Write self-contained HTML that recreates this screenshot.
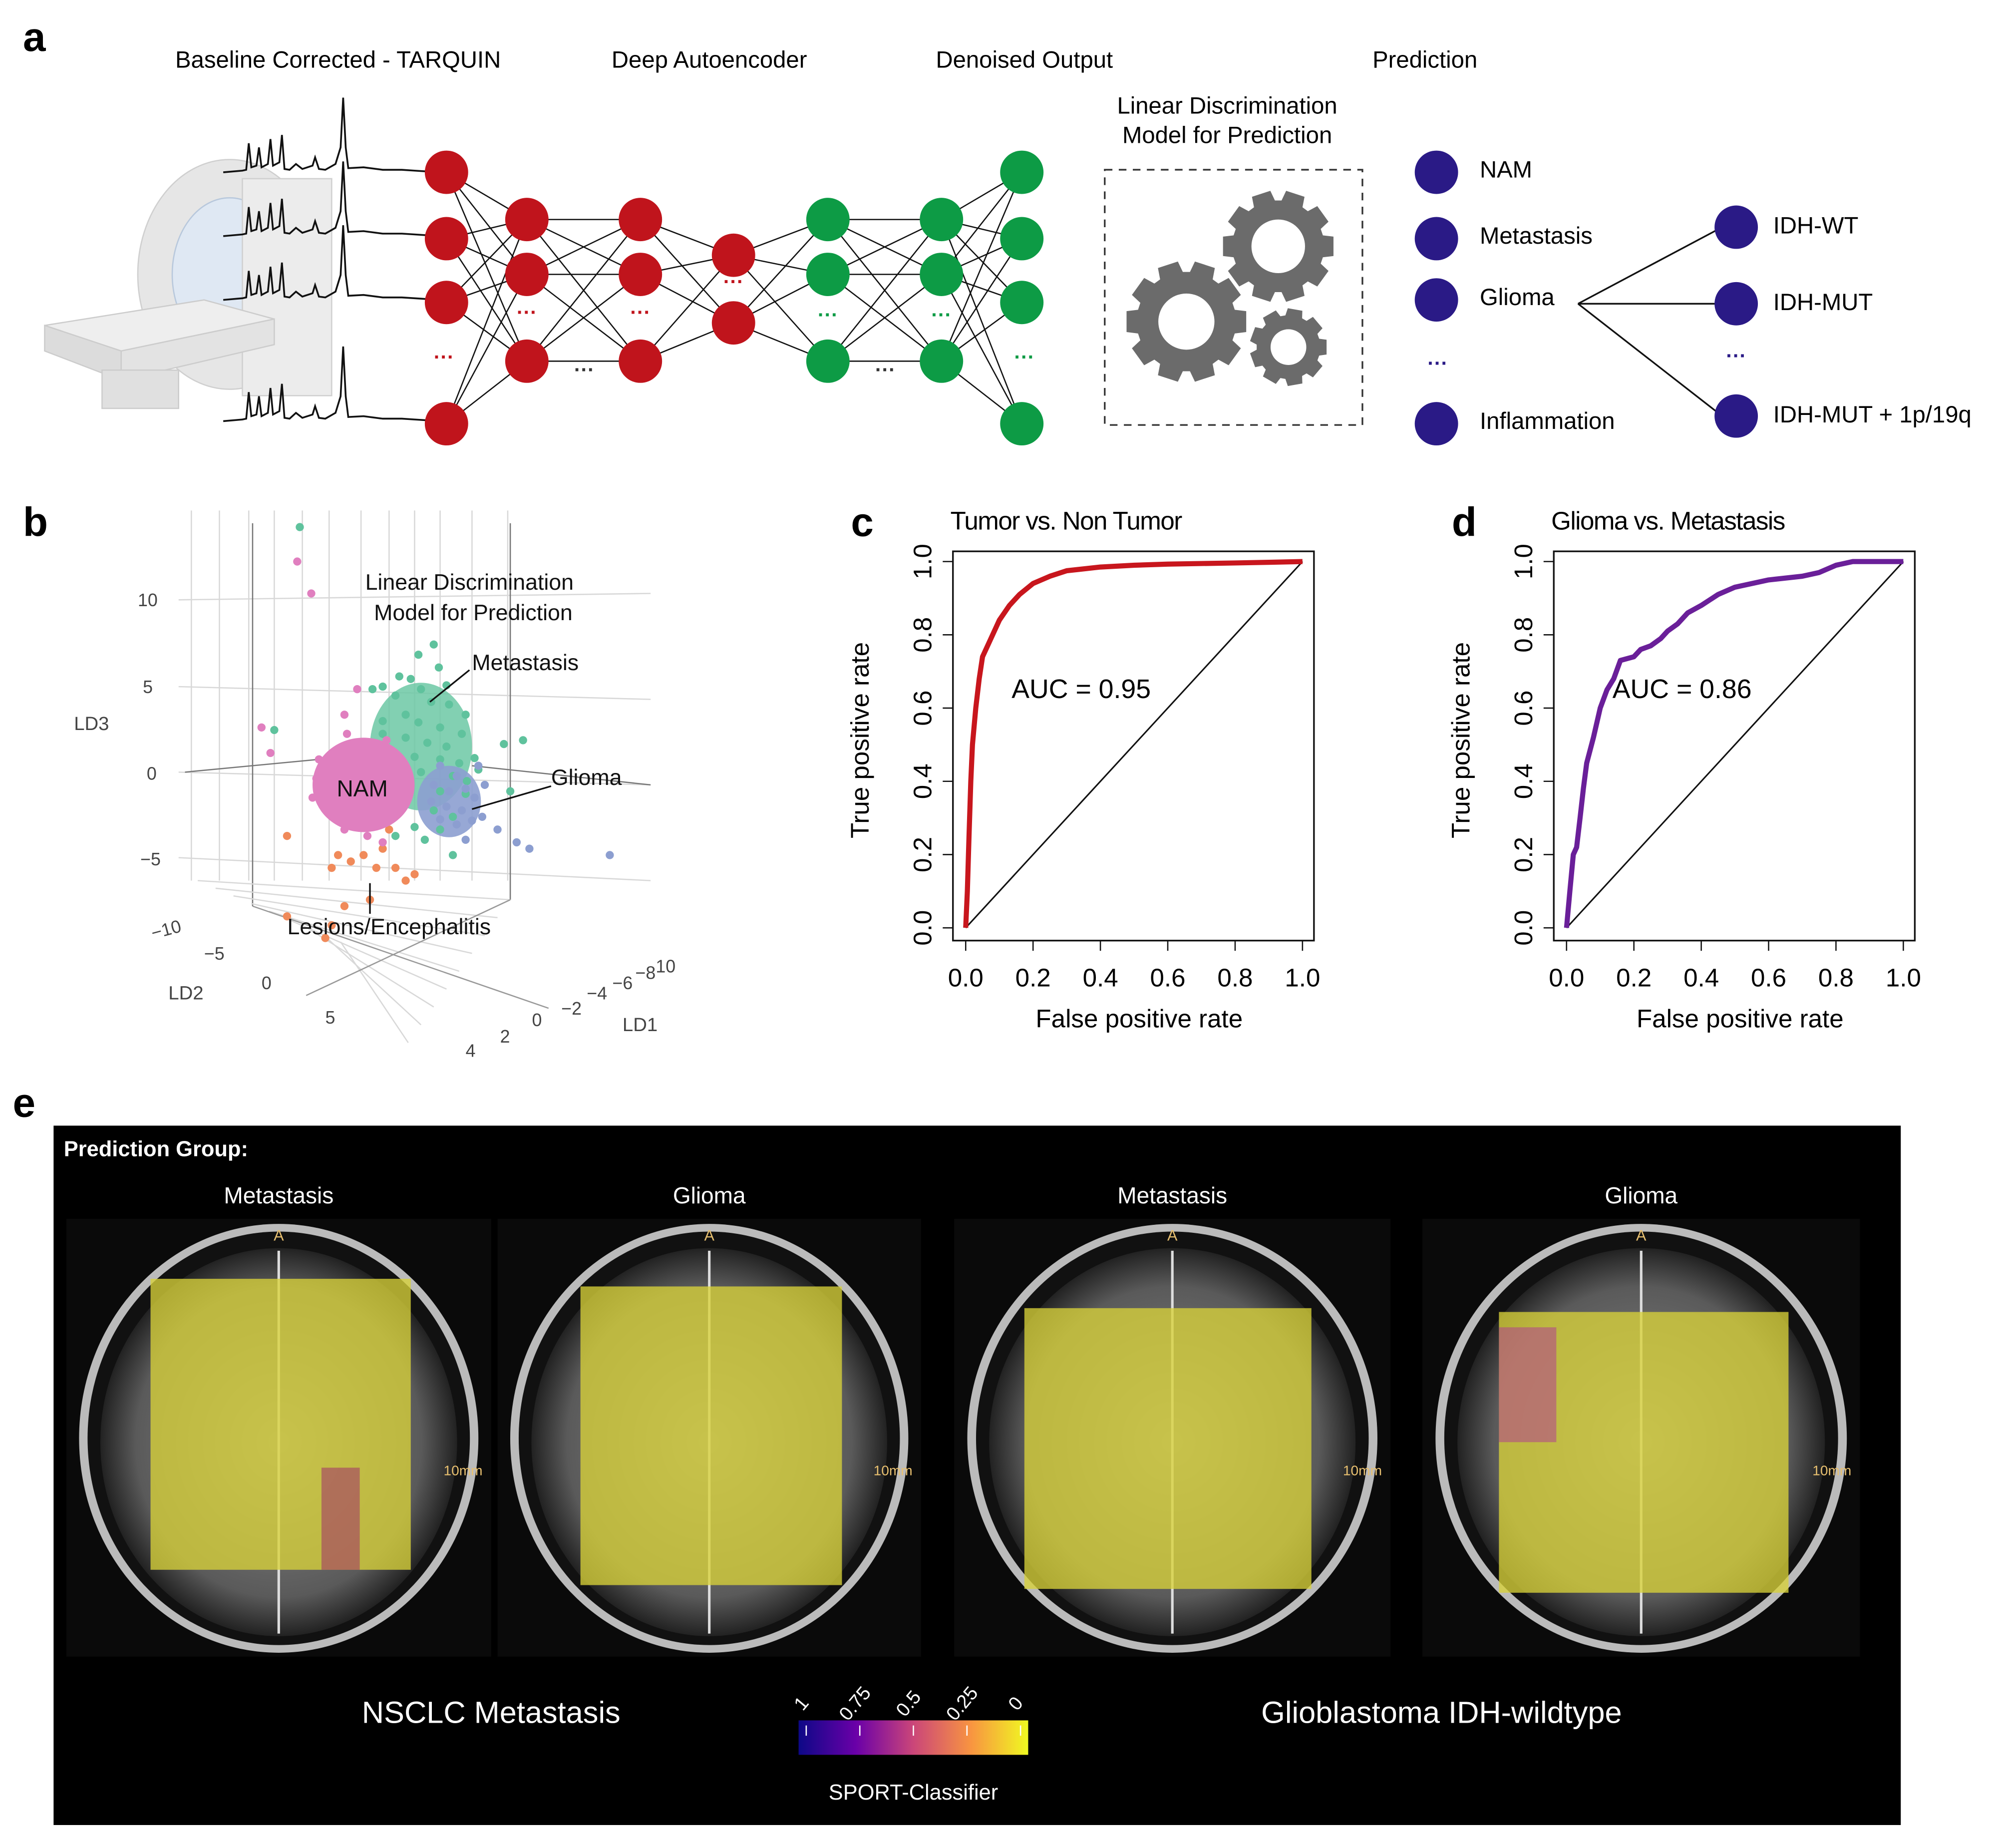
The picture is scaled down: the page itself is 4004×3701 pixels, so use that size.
<!DOCTYPE html>
<html><head><meta charset="utf-8">
<style>
html,body{margin:0;padding:0;background:#fff}
svg{display:block}
text{font-family:"Liberation Sans",Arial,sans-serif}
</style></head>
<body>
<svg id="fig" width="4004" height="3701" viewBox="0 0 1567 1448" preserveAspectRatio="none" xmlns="http://www.w3.org/2000/svg">
<defs>
<linearGradient id="plasma" x1="0" x2="1" y1="0" y2="0">
<stop offset="0" stop-color="#0d0887"/><stop offset="0.25" stop-color="#6a00a8"/><stop offset="0.5" stop-color="#cb4679"/><stop offset="0.75" stop-color="#f89441"/><stop offset="1" stop-color="#f0f921"/>
</linearGradient>
<radialGradient id="brain" cx="0.5" cy="0.5" r="0.5">
<stop offset="0" stop-color="#8a8a8a"/><stop offset="0.8" stop-color="#5a5a5a"/><stop offset="1" stop-color="#222"/>
</radialGradient>
</defs>

<g>
<text x="18" y="40" font-size="32" font-weight="bold">a</text>
<g font-size="18.5" text-anchor="middle">
<text x="265" y="53">Baseline Corrected - TARQUIN</text>
<text x="556" y="53">Deep Autoencoder</text>
<text x="803" y="53">Denoised Output</text>
<text x="1117" y="53">Prediction</text>
<text x="962" y="89">Linear Discrimination</text>
<text x="962" y="112">Model for Prediction</text>
</g>
<g>
<ellipse cx="180" cy="215" rx="72" ry="90" fill="#e6e6e6" stroke="#cfcfcf"/>
<ellipse cx="180" cy="215" rx="45" ry="60" fill="#dfe8f3" stroke="#b8c8dc"/>
<rect x="190" y="140" width="70" height="170" fill="#ececec" stroke="#d0d0d0"/>
<polygon points="35,255 160,235 215,250 95,275" fill="#eeeeee" stroke="#cccccc"/>
<polygon points="35,255 95,275 95,298 35,275" fill="#dcdcdc" stroke="#cccccc"/>
<polygon points="95,275 215,250 215,270 95,298" fill="#e3e3e3" stroke="#cccccc"/>
<rect x="80" y="290" width="60" height="30" fill="#e0e0e0" stroke="#ccc"/>
</g>
<g id="spectra" fill="none" stroke="#111" stroke-width="1.4"></g>
<g id="network"></g>
<rect x="866" y="133" width="202" height="200" fill="none" stroke="#333" stroke-dasharray="6,5" stroke-width="1.3"/>
<g id="gears" fill="#6b6b6b"></g>
<g id="pred"></g>
</g>

<g>
<text x="18" y="420" font-size="32" font-weight="bold">b</text>
<g id="grid3d" stroke="#d8d8d8" stroke-width="1" fill="none"></g>
<g font-size="14" fill="#444">
<text x="108" y="475">10</text><text x="112" y="543">5</text><text x="115" y="611">0</text><text x="110" y="678">−5</text>
<text x="58" y="572" font-size="15">LD3</text>
<text x="120" y="736" transform="rotate(-15 120 736)">−10</text><text x="160" y="752">−5</text><text x="205" y="775">0</text><text x="255" y="802">5</text>
<text x="132" y="783" font-size="15">LD2</text>
<text x="365" y="828">4</text><text x="392" y="817">2</text><text x="417" y="804">0</text><text x="440" y="795">−2</text><text x="460" y="783">−4</text><text x="480" y="775">−6</text><text x="498" y="767">−8</text><text x="514" y="762">10</text>
<text x="488" y="808" font-size="15">LD1</text>
</g>
<g id="scatter"></g>
<g font-size="17.5" fill="#111">
<text x="368" y="462" text-anchor="middle">Linear Discrimination</text>
<text x="371" y="486" text-anchor="middle">Model for Prediction</text>
<text x="370" y="525">Metastasis</text>
<line x1="368" y1="525" x2="337" y2="550" stroke="#111" stroke-width="1.3"/>
<text x="432" y="615">Glioma</text>
<line x1="432" y1="616" x2="370" y2="634" stroke="#111" stroke-width="1.3"/>
<text x="284" y="624" text-anchor="middle" font-size="18">NAM</text>
<text x="305" y="732" text-anchor="middle">Lesions/Encephalitis</text>
<line x1="290" y1="692" x2="290" y2="716" stroke="#111" stroke-width="1.3"/>
</g>
</g>

<g id="rocs"></g>

<g>
<text x="10" y="875" font-size="32" font-weight="bold">e</text>
<rect x="42" y="882" width="1448" height="548" fill="#000"/>
<text x="50" y="906" fill="#fff" font-size="17" font-weight="bold">Prediction Group:</text>
<g id="brains"></g>
<text x="385" y="1350" fill="#fff" font-size="24" text-anchor="middle">NSCLC Metastasis</text>
<text x="1130" y="1350" fill="#fff" font-size="24" text-anchor="middle">Glioblastoma IDH-wildtype</text>
<rect x="626" y="1348" width="180" height="27" fill="url(#plasma)"/>
<g id="cbticks" fill="#fff" font-size="15"></g>
<text x="716" y="1410" fill="#fff" font-size="17" text-anchor="middle">SPORT-Classifier</text>
</g>
</svg>

<script>
const NS='http://www.w3.org/2000/svg';
function mk(tag,attrs,parent){const e=document.createElementNS(NS,tag);for(const k in attrs)e.setAttribute(k,attrs[k]);if(parent)parent.appendChild(e);return e;}

const rocC_fpr=[0,0.005,0.01,0.015,0.02,0.03,0.04,0.05,0.07,0.1,0.13,0.16,0.2,0.25,0.3,0.4,0.5,0.6,0.8,0.9,1];
const rocC_tpr=[0,0.1,0.25,0.4,0.5,0.6,0.68,0.74,0.78,0.84,0.88,0.91,0.94,0.96,0.975,0.985,0.99,0.993,0.996,0.998,1];
const rocD_fpr=[0,0.01,0.02,0.03,0.04,0.05,0.06,0.08,0.1,0.12,0.14,0.16,0.2,0.22,0.25,0.28,0.3,0.33,0.36,0.4,0.45,0.5,0.6,0.7,0.75,0.8,0.85,0.9,1];
const rocD_tpr=[0,0.1,0.2,0.22,0.3,0.38,0.45,0.52,0.6,0.65,0.68,0.73,0.74,0.76,0.77,0.79,0.81,0.83,0.86,0.88,0.91,0.93,0.95,0.96,0.97,0.99,1,1,1];
const rocTicks=[0,0.2,0.4,0.6,0.8,1.0];
const rocTickLabels=['0.0','0.2','0.4','0.6','0.8','1.0'];
const aucC='AUC = 0.95', aucD='AUC = 0.86';

function drawRoc(id,letter,title,fpr,tpr,auc,color,bx){
  const g=mk('g',{},document.getElementById('rocs'));
  
  
  const x0=bx+10,x1=bx+274,y0=727,y1=440;
  const sx=v=>x0+v*(x1-x0), sy=v=>y0-v*(y0-y1);
  mk('text',{x:bx-80,y:420,'font-size':32,'font-weight':'bold'},g).textContent=letter;
  const t=mk('text',{x:bx-2,y:415,'font-size':20,'letter-spacing':'-0.6'},g);t.textContent=title;
  
  
  const box=mk('rect',{x:bx,y:432,width:283,height:305,fill:'none',stroke:'#111','stroke-width':1.3},g);
  
  
  const diag=mk('line',{x1:sx(0),y1:sy(0),x2:sx(1),y2:sy(1),stroke:'#111','stroke-width':1.2},g);
  
  
  rocTicks.forEach((v,i)=>{
    mk('line',{x1:sx(v),y1:737,x2:sx(v),y2:745,stroke:'#111'},g);
    const tx=mk('text',{x:sx(v),y:773,'font-size':20,'text-anchor':'middle'},g);tx.textContent=rocTickLabels[i];
    
    
    mk('line',{x1:bx,y1:sy(v),x2:bx-8,y2:sy(v),stroke:'#111'},g);
    const ty=mk('text',{x:bx-17,y:sy(v),'font-size':20,'text-anchor':'middle',transform:`rotate(-90 ${bx-17} ${sy(v)})`},g);ty.textContent=rocTickLabels[i];
    
    
  });
  const xl=mk('text',{x:bx+146,y:805,'font-size':20,'text-anchor':'middle'},g);xl.textContent='False positive rate';
  
  
  const yl=mk('text',{x:bx-66,y:580,'font-size':20,'text-anchor':'middle',transform:`rotate(-90 ${bx-66} 580)`},g);yl.textContent='True positive rate';
  
  
  const d=fpr.map((f,i)=>(i?'L':'M')+sx(f).toFixed(1)+','+sy(tpr[i]).toFixed(1)).join('');
  const p=mk('path',{d:d,fill:'none',stroke:color,'stroke-width':4,'stroke-linejoin':'round'},g);
  
  
  const a=mk('text',{x:bx+46,y:547,'font-size':21},g);a.textContent=auc;
  
  
}
drawRoc('c','c','Tumor vs. Non Tumor',rocC_fpr,rocC_tpr,aucC,'#c8161d',747);
drawRoc('d','d','Glioma vs. Metastasis',rocD_fpr,rocD_tpr,aucD,'#6a1f99',1218);

const specBase=[135,185,235,330];
(function(){
  const g=document.getElementById('spectra');
  specBase.forEach(b=>{
    const o=175,pk=[[0,0],[15,-2],[18,-3],[20,-35],[22,-6],[26,-8],[28,-30],[30,-6],[35,-10],[37,-40],[39,-8],[44,-12],[46,-45],[48,-4],[52,-3],[57,-10],[62,-4],[70,-8],[72,-18],[75,-4],[80,-3],[88,-10],[92,-30],[94,-90],[96,-30],[98,-5],[110,-6],[125,-3],[140,-3],[150,-2],[170,0]];
    const d=pk.map((p,i)=>(i?'L':'M')+(o+p[0])+','+(b+p[1]*0.65)).join('');
    const pth=mk('path',{d:d},g);
    
    
  });
})();

const netCols=[[350,[135,187,237,332],'#c0141c'],[413,[172,215,283],'#c0141c'],[502,[172,215,283],'#c0141c'],[575,[200,253],'#c0141c'],[649,[172,215,283],'#0d9b45'],[738,[172,215,283],'#0d9b45'],[801,[135,187,237,332],'#0d9b45']];
(function(){
  const g=document.getElementById('network');
  for(let c=0;c<netCols.length-1;c++){
    const [xa,ya]=netCols[c],[xb,yb]=netCols[c+1];
    ya.forEach(a=>yb.forEach(b=>mk('line',{x1:xa,y1:a,x2:xb,y2:b,stroke:'#111','stroke-width':1},g)));
  }
  netCols.forEach(([x,ys,col])=>ys.forEach(y=>{
    const n=mk('circle',{cx:x,cy:y,r:17,fill:col},g);
    
    
  }));
  [[348,285,'#c0141c'],[413,250,'#c0141c'],[502,250,'#c0141c'],[575,226,'#c0141c'],[458,295,'#333'],[649,252,'#0d9b45'],[738,252,'#0d9b45'],[694,295,'#333'],[803,285,'#0d9b45']].forEach(([x,y,c])=>{
    const t=mk('text',{x:x,y:y,'font-size':16,'font-weight':'bold','text-anchor':'middle',fill:c},g);t.textContent='···';
  });
  const gg=document.getElementById('gears');
  function gear(cx,cy,R,r,teeth){
    let d='';
    for(let i=0;i<teeth;i++){
      const a=i/teeth*2*Math.PI,w=Math.PI/teeth*0.55;
      [[a-w*1.4,R],[a-w,R+R*0.22],[a+w,R+R*0.22],[a+w*1.4,R]].forEach((p,j)=>{d+=(i===0&&j===0?'M':'L')+(cx+p[1]*Math.cos(p[0])).toFixed(1)+','+(cy+p[1]*Math.sin(p[0])).toFixed(1);});
    }
    d+='Z M'+(cx+r)+','+cy+' a'+r+','+r+' 0 1,0 '+(-2*r)+',0 a'+r+','+r+' 0 1,0 '+(2*r)+',0Z';
    mk('path',{d:d,'fill-rule':'evenodd'},gg);
  }
  gear(930,252,39,22,10);gear(1002,193,36,21,10);gear(1010,272,25,14,9);
  const pg=document.getElementById('pred');
  const classes=['NAM','Metastasis','Glioma','Inflammation'],cy=[135,187,235,332];
  classes.forEach((c,i)=>{
    const n=mk('circle',{cx:1126,cy:cy[i],r:17,fill:'#2a1a86'},pg);
    
    
    const t=mk('text',{x:1160,y:cy[i]+4,'font-size':18.5},pg);t.textContent=c;
  });
  const sub=['IDH-WT','IDH-MUT','IDH-MUT + 1p/19q'],sy=[178,238,326];
  sub.forEach((c,i)=>{
    mk('line',{x1:1237,y1:238,x2:1350,y2:sy[i],stroke:'#111','stroke-width':1.3},pg);
    const n=mk('circle',{cx:1361,cy:sy[i],r:17,fill:'#2a1a86'},pg);
    
    
    const t=mk('text',{x:1390,y:sy[i]+5,'font-size':18.5},pg);t.textContent=c;
  });
  [[1127,290],[1361,284]].forEach(([x,y])=>{const t=mk('text',{x:x,y:y,'font-size':16,'font-weight':'bold','text-anchor':'middle',fill:'#2a1a86'},pg);t.textContent='···';});
})();

(function(){
  const g=document.getElementById('grid3d');
  [150,172,195,215,237,258,283,305,325,345,370,398].forEach(x=>mk('line',{x1:x,y1:400,x2:x,y2:690},g));
  [[140,470,510,465],[140,538,510,548],[140,605,510,615],[140,672,510,690]].forEach(l=>mk('line',{x1:l[0],y1:l[1],x2:l[2],y2:l[3]},g));
  mk('line',{x1:145,y1:605,x2:250,y2:595,stroke:'#777'},g);
  mk('line',{x1:370,y1:600,x2:510,y2:615,stroke:'#777'},g);
  mk('line',{x1:198,y1:410,x2:198,y2:710,stroke:'#777'},g);
  mk('line',{x1:400,y1:410,x2:400,y2:705,stroke:'#777'},g);
  for(let i=0;i<9;i++){mk('line',{x1:155+i*14,y1:690+i*6,x2:400-i*10,y2:705+i*14},g);}
  mk('line',{x1:198,y1:710,x2:430,y2:790,stroke:'#999'},g);
  mk('line',{x1:240,y1:780,x2:400,y2:705,stroke:'#999'},g);
})();

const ptsGreen=[[235,413],[340,505],[328,513],[344,523],[313,530],[322,532],[300,538],[330,540],[350,537],[310,545],[338,550],[352,552],[365,560],[318,560],[300,565],[328,566],[345,570],[362,575],[300,575],[318,578],[335,582],[350,585],[308,590],[325,593],[345,595],[360,598],[375,603],[330,605],[355,608],[315,612],[345,620],[365,622],[340,635],[355,640],[325,648],[345,650],[395,583],[400,620],[410,580],[215,572],[355,670],[333,658],[310,655],[292,540],[372,594],[366,612]];
const ptsBlue=[[345,600],[358,608],[340,615],[352,620],[365,618],[338,628],[350,632],[362,635],[372,625],[345,642],[358,646],[370,643],[380,615],[378,640],[390,650],[365,658],[405,660],[415,665],[478,670],[375,600]];
const ptsPink=[[233,440],[244,465],[205,570],[212,590],[248,610],[245,625],[250,595],[270,560],[272,575],[280,540],[265,620],[265,640],[270,650],[303,580],[310,620],[288,655],[300,660]];
const ptsOrange=[[225,655],[265,670],[260,680],[275,675],[285,670],[295,680],[300,665],[310,680],[318,690],[325,685],[290,705],[270,710],[260,725],[255,735],[225,718],[305,650]];
const namCenter=[285,615], namRadius=[40,37];
(function(){
  const g=document.getElementById('scatter');
  function pts(arr,col,name){arr.forEach(p=>{const c=mk('circle',{cx:p[0],cy:p[1],r:3.2,fill:col},g);
    
    });}
  const gc=mk('ellipse',{cx:330,cy:585,rx:40,ry:50,fill:'#6cc8a4',opacity:0.85},g);
  
  
  const bc=mk('ellipse',{cx:352,cy:628,rx:25,ry:28,fill:'#8c9ed0',opacity:0.9},g);
  
  
  pts(ptsGreen,'#5fc29d','metastasis-point');
  pts(ptsBlue,'#8c9ed0','glioma-point');
  pts(ptsOrange,'#f08a5a','lesion-point');
  pts(ptsPink,'#e07fbf','nam-point');
  const nc=mk('ellipse',{cx:namCenter[0],cy:namCenter[1],rx:namRadius[0],ry:namRadius[1],fill:'#e07fbf'},g);
  
  
})();

const brainImgs=[[52,385,'Metastasis',[118,1002,322,1230]],[390,722,'Glioma',[455,1008,660,1242]],[748,1090,'Metastasis',[803,1025,1028,1245]],[1115,1458,'Glioma',[1175,1028,1402,1248]]];
(function(){
  const g=document.getElementById('brains');
  brainImgs.forEach(([x0,x1,lab,ov],i)=>{
    const w=x1-x0,cx=(x0+x1)/2;
    const t=mk('text',{x:cx,y:943,fill:'#fff','font-size':18,'text-anchor':'middle'},g);t.textContent=lab;
    
    
    mk('rect',{x:x0,y:955,width:w,height:343,fill:'#0a0a0a'},g);
    mk('ellipse',{cx:cx,cy:1127,rx:w*0.47,ry:168,fill:'#bbb'},g);
    mk('ellipse',{cx:cx,cy:1127,rx:w*0.45,ry:162,fill:'#111'},g);
    mk('ellipse',{cx:cx,cy:1130,rx:w*0.42,ry:152,fill:'url(#brain)'},g);
    mk('line',{x1:cx,y1:980,x2:cx,y2:1280,stroke:'#ddd','stroke-width':2},g);
    const o=mk('rect',{x:ov[0],y:ov[1],width:ov[2]-ov[0],height:ov[3]-ov[1],fill:'#d8d23a',opacity:0.78},g);
    
    
    const a=mk('text',{x:cx,y:972,fill:'#e8c070','font-size':12,'text-anchor':'middle'},g);a.textContent='A';
    const s=mk('text',{x:x1-22,y:1156,fill:'#e8c070','font-size':11,'text-anchor':'middle'},g);s.textContent='10mm';
  });
  mk('rect',{x:252,y:1150,width:30,height:80,fill:'#a0306a',opacity:0.55},g);
  mk('rect',{x:1175,y:1040,width:45,height:90,fill:'#b04090',opacity:0.55},g);
  const cb=document.getElementById('cbticks');
  const cbLabels=['1','0.75','0.5','0.25','0'],cbVals=[0,0.25,0.5,0.75,1];
  cbVals.forEach((v,i)=>{
    const x=632+v*168;
    mk('line',{x1:x,y1:1352,x2:x,y2:1360,stroke:'#fff'},cb);
    const t=mk('text',{x:x,y:1338,'text-anchor':'middle',transform:`rotate(-50 ${x} 1338)`},cb);t.textContent=cbLabels[i];
    
    
  });
})();
</script>
</body></html>
